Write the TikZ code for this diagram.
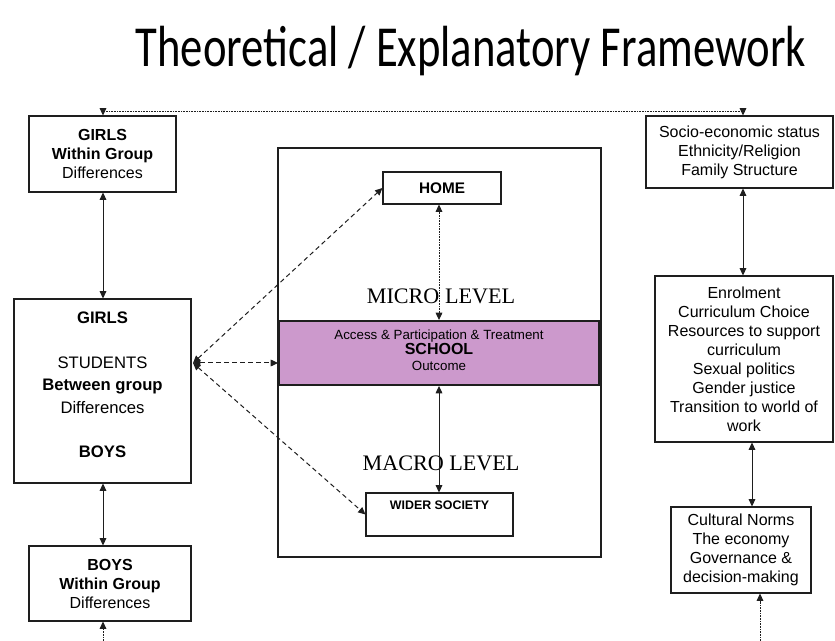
\documentclass[tikz,border=0pt]{standalone}
\usepackage{fontspec}
\setmainfont{Liberation Sans}
\newfontfamily\titlefont{Carlito}
\newfontfamily\seriffont{Liberation Serif}
\usetikzlibrary{arrows.meta,calc}
\definecolor{schoolfill}{RGB}{204,153,204}
\definecolor{edge}{RGB}{30,30,30}
\tikzset{
  box/.style={draw=edge, line width=0.8pt, inner sep=0pt, align=center,
    font=\fontsize{12}{14.25}\selectfont},
  conn/.style={line width=0.75pt, draw=edge, {Triangle[length=5.5pt,width=5pt]}-{Triangle[length=5.5pt,width=5pt]}},
  oneway/.style={line width=0.75pt, draw=edge, -{Triangle[length=5.5pt,width=5pt]}},
  dots/.style={dash pattern=on 0.6pt off 0.6pt},
  dsh/.style={dash pattern=on 3.5pt off 2.5pt},
  level/.style={font=\seriffont\fontsize{16.6}{18}\selectfont},
}
% name, x1, y1, x2, y2, options, text  (pixel coordinates)
\newcommand\mybox[7]{%
  \pgfmathsetmacro\bw{(#4-#2)*0.75}%
  \pgfmathsetmacro\bh{(#5-#3)*0.75}%
  \node[box, minimum width=\bw pt, minimum height=\bh pt, #6] (#1) at ({(#2+#4)/2},{(#3+#5)/2}) {#7};}
\begin{document}
\begin{tikzpicture}[x=0.75pt,y=-0.75pt]
\useasboundingbox (0,0) rectangle (835,641);
% title
\node[anchor=base, yscale=1.3, font=\titlefont\fontsize{33.5}{38}\selectfont] (title) at (471,67) {Theoretical / Explanatory Framework};

% left column
\mybox{girlsw}{29}{116}{176}{192}{}{\textbf{GIRLS}\\\textbf{Within Group}\\Differences}
\mybox{students}{14}{299}{191}{483}{}{}
\node[align=center, inner sep=0pt, font=\fontsize{12.5}{16.8}\selectfont] (studentst) at ($(students.center)+(0,-6)$)
  {\textbf{GIRLS}\\[16.8pt]STUDENTS\\\textbf{Between group}\\Differences\\[16.8pt]\textbf{BOYS}};
\mybox{boysw}{29}{546}{191}{621}{}{\textbf{BOYS}\\\textbf{Within Group}\\Differences}

% middle frame
\mybox{frame}{278}{148}{601}{557}{}{}
\mybox{home}{383}{172}{501}{204}{font=\bfseries\fontsize{11.5}{13}\selectfont}{HOME}
\mybox{school}{279}{321}{599}{385}{fill=schoolfill, line width=1.4pt}{}
\node[align=center, inner sep=0pt, font=\fontsize{10}{11.8}\selectfont] (schoolt) at ($(school.center)+(0,-3)$)
  {Access \& Participation \& Treatment\\{\bfseries\fontsize{12}{11.8}\selectfont SCHOOL}\\Outcome};
\mybox{wider}{366}{493}{513}{536}{}{}
\node[anchor=north, font=\bfseries\fontsize{9.3}{11}\selectfont, inner sep=0pt] (widert) at ($(wider.north)+(0,8)$) {WIDER SOCIETY};
\node[level] (micro) at (441,296) {MICRO LEVEL};
\node[level] (macro) at (441,463) {MACRO LEVEL};

% right column
\mybox{socio}{646}{116}{833}{188}{}{Socio-economic status\\Ethnicity/Religion\\Family Structure}
\mybox{enrol}{655}{276}{833}{442}{}{Enrolment\\Curriculum Choice\\Resources to support\\curriculum\\Sexual politics\\Gender justice\\Transition to world of\\work}
\mybox{cult}{671}{507}{811}{593}{}{Cultural Norms\\The economy\\Governance \&\\decision-making}

% helper coordinates
\coordinate (tl) at (103,112);
\coordinate (tr) at (743,112);
\coordinate (xl) at (103,0);
\coordinate (xm) at (439,0);
\coordinate (xr1) at (743,0);
\coordinate (xr2) at (752,0);
\coordinate (bl) at (103,641);
\coordinate (br) at (760,641);
\coordinate (hub) at (193,363);

% top dotted connector
\draw[conn, dots] (girlsw.north -| tl) -- (tl) -- (tr) -- (socio.north -| tr);
% bottom dotted arrows
\draw[oneway, dots] (bl) -- (boysw.south -| bl);
\draw[oneway, dots] (br) -- (cult.south -| br);

% left solid arrows
\draw[conn] (girlsw.south -| xl) -- (students.north -| xl);
\draw[conn] (students.south -| xl) -- (boysw.north -| xl);

% right solid arrows
\draw[conn] (socio.south -| xr1) -- (enrol.north -| xr1);
\draw[conn] (enrol.south -| xr2) -- (cult.north -| xr2);

% middle arrows
\draw[conn, dots] (home.south -| xm) -- (school.north -| xm);
\draw[conn] (school.south -| xm) -- (wider.north -| xm);

% dashed arrows from students
\draw[conn, dsh] (hub) -- (home.west);
\draw[conn, dsh] (hub) -- (school.west |- hub);
\draw[conn, dsh] (hub) -- (wider.west);
\end{tikzpicture}
\end{document}
